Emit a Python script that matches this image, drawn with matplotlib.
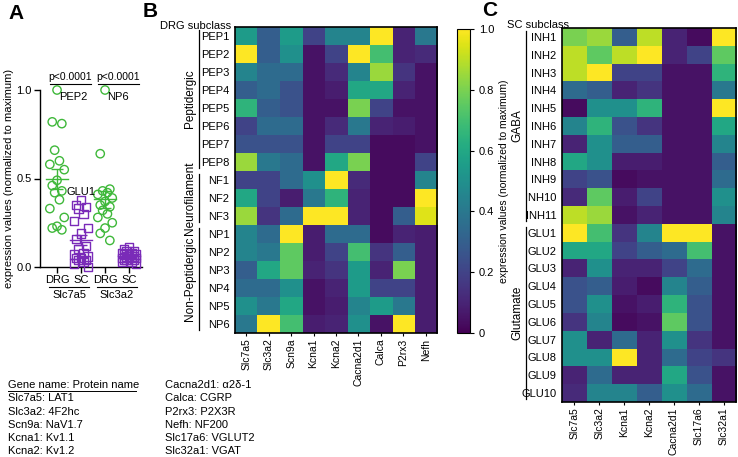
import numpy as np
import matplotlib
matplotlib.use('Agg')
import matplotlib.pyplot as plt
from matplotlib.lines import Line2D

plt.rcParams['font.family'] = ['Liberation Sans', 'DejaVu Sans']
plt.rcParams['font.size'] = 8

# ---- data ----
# panel A: scatter (normalized expression)
slc7a5_drg = [1.0, 0.82, 0.81, 0.66, 0.6, 0.58, 0.55, 0.49, 0.46, 0.43, 0.42, 0.38, 0.33, 0.28, 0.23, 0.22, 0.21]
slc7a5_sc = [0.38, 0.35, 0.34, 0.33, 0.3, 0.26, 0.22, 0.19, 0.16, 0.12, 0.1, 0.08, 0.07, 0.06, 0.05, 0.05,
             0.04, 0.04, 0.03, 0.02, 0.0]
slc3a2_drg = [1.0, 0.64, 0.44, 0.43, 0.42, 0.41, 0.39, 0.37, 0.35, 0.34, 0.32, 0.3, 0.28, 0.25, 0.22, 0.19, 0.15]
slc3a2_sc = [0.11, 0.1, 0.09, 0.09, 0.08, 0.08, 0.07, 0.07, 0.07, 0.06, 0.06, 0.06, 0.05, 0.05, 0.05, 0.04,
             0.04, 0.04, 0.03, 0.03, 0.02]
a_ticklabels = ['DRG', 'SC', 'DRG', 'SC']
a_genes = ['Slc7a5', 'Slc3a2']
p_values = ['p<0.0001', 'p<0.0001']

# panel B: DRG subclass heatmap
drg_rows = ['PEP1', 'PEP2', 'PEP3', 'PEP4', 'PEP5', 'PEP6', 'PEP7', 'PEP8',
            'NF1', 'NF2', 'NF3', 'NP1', 'NP2', 'NP3', 'NP4', 'NP5', 'NP6']
drg_cols = ['Slc7a5', 'Slc3a2', 'Scn9a', 'Kcna1', 'Kcna2', 'Cacna2d1', 'Calca', 'P2rx3', 'Nefh']
drg_vals = [
    [0.55, 0.30, 0.55, 0.20, 0.45, 0.45, 1.00, 0.10, 0.40],
    [1.00, 0.30, 0.50, 0.05, 0.20, 1.00, 0.70, 0.10, 0.12],
    [0.45, 0.35, 0.35, 0.05, 0.12, 0.45, 0.85, 0.15, 0.05],
    [0.30, 0.35, 0.25, 0.05, 0.08, 0.60, 0.60, 0.10, 0.05],
    [0.65, 0.30, 0.25, 0.05, 0.05, 0.80, 0.20, 0.05, 0.05],
    [0.20, 0.35, 0.35, 0.05, 0.12, 0.40, 0.10, 0.08, 0.05],
    [0.25, 0.25, 0.25, 0.05, 0.20, 0.20, 0.03, 0.03, 0.05],
    [0.85, 0.40, 0.35, 0.05, 0.60, 0.80, 0.03, 0.03, 0.20],
    [0.20, 0.20, 0.35, 0.50, 1.00, 0.12, 0.03, 0.03, 0.45],
    [0.60, 0.20, 0.08, 0.40, 0.65, 0.10, 0.03, 0.03, 1.00],
    [0.85, 0.15, 0.35, 1.00, 1.00, 0.10, 0.03, 0.30, 0.95],
    [0.45, 0.35, 1.00, 0.08, 0.35, 0.35, 0.03, 0.10, 0.08],
    [0.45, 0.40, 0.75, 0.08, 0.20, 0.70, 0.15, 0.30, 0.08],
    [0.30, 0.60, 0.75, 0.10, 0.15, 0.55, 0.10, 0.80, 0.08],
    [0.35, 0.35, 0.50, 0.05, 0.10, 0.55, 0.20, 0.20, 0.08],
    [0.50, 0.40, 0.60, 0.05, 0.08, 0.45, 0.55, 0.40, 0.08],
    [0.40, 1.00, 0.70, 0.08, 0.10, 0.50, 0.05, 1.00, 0.08],
]
drg_groups = [('Peptidergic', 0, 7), ('Neurofilament', 8, 10), ('Non-Peptidergic', 11, 16)]

# panel C: SC subclass heatmap
sc_rows = ['INH1', 'INH2', 'INH3', 'INH4', 'INH5', 'INH6', 'INH7', 'INH8', 'INH9', 'INH10', 'INH11',
           'GLU1', 'GLU2', 'GLU3', 'GLU4', 'GLU5', 'GLU6', 'GLU7', 'GLU8', 'GLU9', 'GLU10']
sc_cols = ['Slc7a5', 'Slc3a2', 'Kcna1', 'Kcna2', 'Cacna2d1', 'Slc17a6', 'Slc32a1']
sc_vals = [
    [0.80, 0.85, 0.30, 0.90, 0.10, 0.03, 1.00],
    [0.90, 0.75, 0.90, 1.00, 0.10, 0.20, 0.75],
    [0.90, 1.00, 0.20, 0.20, 0.05, 0.05, 0.65],
    [0.35, 0.30, 0.10, 0.15, 0.05, 0.05, 0.40],
    [0.03, 0.50, 0.50, 0.65, 0.05, 0.05, 1.00],
    [0.45, 0.65, 0.25, 0.15, 0.05, 0.05, 0.60],
    [0.10, 0.50, 0.30, 0.30, 0.05, 0.05, 0.45],
    [0.60, 0.50, 0.08, 0.08, 0.05, 0.05, 0.30],
    [0.20, 0.25, 0.03, 0.05, 0.05, 0.05, 0.35],
    [0.12, 0.75, 0.08, 0.20, 0.05, 0.05, 0.50],
    [0.90, 0.85, 0.05, 0.10, 0.05, 0.05, 0.45],
    [1.00, 0.70, 0.15, 0.45, 1.00, 1.00, 0.05],
    [0.60, 0.60, 0.20, 0.30, 0.35, 0.70, 0.05],
    [0.10, 0.50, 0.10, 0.10, 0.20, 0.35, 0.05],
    [0.25, 0.30, 0.08, 0.03, 0.45, 0.30, 0.05],
    [0.25, 0.50, 0.05, 0.08, 0.65, 0.25, 0.05],
    [0.15, 0.45, 0.03, 0.05, 0.75, 0.25, 0.05],
    [0.50, 0.10, 0.35, 0.10, 0.50, 0.15, 0.05],
    [0.50, 0.50, 1.00, 0.10, 0.35, 0.20, 0.15],
    [0.10, 0.35, 0.10, 0.10, 0.60, 0.25, 0.05],
    [0.12, 0.45, 0.45, 0.30, 0.50, 0.35, 0.05],
]
sc_groups = [('GABA', 0, 10), ('Glutamate', 11, 20)]

legend_col1 = ['Slc7a5: LAT1', 'Slc3a2: 4F2hc', 'Scn9a: NaV1.7', 'Kcna1: Kv1.1', 'Kcna2: Kv1.2']
legend_col2 = ['Cacna2d1: \u03b12\u03b4-1', 'Calca: CGRP', 'P2rx3: P2X3R', 'Nefh: NF200',
               'Slc17a6: VGLUT2', 'Slc32a1: VGAT']

W, H = 738, 457
fig = plt.figure(figsize=(W / 100, H / 100), dpi=100)


def px(l, t, r, b):
    # pixel box -> figure fraction
    return [l / W, 1 - b / H, (r - l) / W, (b - t) / H]


GREEN = '#3fb83a'
PURPLE = '#7a2bb8'
OFFS = [0, -0.2, 0.2, -0.1, 0.1, -0.3, 0.3]

# ---- Panel A ----
axA = fig.add_axes(px(40, 90, 142, 267))
series = [(slc7a5_drg, 'o', GREEN), (slc7a5_sc, 's', PURPLE),
          (slc3a2_drg, 'o', GREEN), (slc3a2_sc, 's', PURPLE)]
for i, (vals, mk, col) in enumerate(series):
    v = np.array(vals)
    xs = i + np.array([OFFS[k % len(OFFS)] for k in range(len(v))])
    axA.scatter(xs, v, marker=mk, s=36, facecolors='none', edgecolors=col, linewidths=1.0,
                clip_on=False, zorder=3)
    m = v.mean()
    sem = v.std(ddof=1) / np.sqrt(len(v))
    axA.plot([i - 0.45, i + 0.45], [m, m], color=col, lw=1.0, zorder=4, clip_on=False)
    axA.errorbar(i, m, yerr=sem, color=col, capsize=4, lw=1.0, capthick=1.0, zorder=4)

axA.set_xlim(-0.71, 3.54)
axA.set_ylim(0, 1.0)
axA.set_yticks([0, 0.5, 1.0])
axA.set_yticklabels(['0.0', '0.5', '1.0'])
axA.set_xticks([0, 1, 2, 3])
axA.set_xticklabels(a_ticklabels, fontsize=8)
axA.tick_params(length=4, width=1, pad=2)
for s in ['top', 'right']:
    axA.spines[s].set_visible(False)
axA.spines['left'].set_linewidth(1)
axA.spines['bottom'].set_linewidth(1)
axA.set_ylabel('expression values (normalized to maximum)', fontsize=8, labelpad=2)

# gene labels under pairs
for j, g in enumerate(a_genes):
    x0 = 2 * j
    axA.plot([x0 - 0.35, x0 + 1.35], [-0.115, -0.115], color='black', lw=0.8, clip_on=False)
    axA.text(x0 + 0.5, -0.13, g, ha='center', va='top', fontsize=8)

# p-value brackets
for j, p in enumerate(p_values):
    x0 = 2 * j
    axA.plot([x0 - 0.3, x0 + 1.4], [1.034, 1.034], color='black', lw=0.8, clip_on=False)
    axA.text(x0 + 0.55, 1.045, p, ha='center', va='bottom', fontsize=7.5)

axA.text(0.1, 0.99, 'PEP2', ha='left', va='top', fontsize=8)
axA.text(1.0, 0.395, 'GLU1', ha='center', va='bottom', fontsize=8)
axA.text(2.1, 0.99, 'NP6', ha='left', va='top', fontsize=8)

fig.text(8 / W, 1 - 4 / H, 'A', fontsize=15, fontweight='bold', va='top', ha='left')


# ---- heatmap helper ----
def heatmap(ax, vals, rows, cols, groups, line_x, text_x):
    im = ax.imshow(np.array(vals), cmap='viridis', vmin=0, vmax=1, aspect='auto',
                   interpolation='nearest')
    ax.set_xticks(range(len(cols)))
    ax.set_xticklabels(cols, rotation=90, fontsize=7.5)
    ax.set_yticks(range(len(rows)))
    ax.set_yticklabels(rows, fontsize=8)
    ax.tick_params(axis='y', length=0, pad=4)
    ax.tick_params(axis='x', length=2.5, width=0.8, pad=1.5)
    for s in ax.spines.values():
        s.set_linewidth(1.2)
    tr = ax.get_yaxis_transform()
    for name, r0, r1 in groups:
        ax.plot([line_x, line_x], [r0 - 0.35, r1 + 0.35], color='black', lw=0.9,
                transform=tr, clip_on=False)
        ax.text(text_x, (r0 + r1) / 2, name, rotation=90, ha='center', va='center',
                fontsize=8.5, transform=tr)
    return im


# ---- Panel B ----
axB = fig.add_axes(px(235, 27, 437, 333))
imB = heatmap(axB, drg_vals, drg_rows, drg_cols, drg_groups, -0.178, -0.225)
fig.text(143 / W, 1 - 2 / H, 'B', fontsize=15, fontweight='bold', va='top', ha='left')
fig.text(160 / W, 1 - 26 / H, 'DRG subclass', fontsize=8, va='center', ha='left')

# colorbar
cax = fig.add_axes(px(457, 29, 470, 333))
cb = fig.colorbar(imB, cax=cax)
cb.set_ticks([0, 0.2, 0.4, 0.6, 0.8, 1.0])
cb.set_ticklabels(['0', '0.2', '0.4', '0.6', '0.8', '1.0'])
cb.ax.tick_params(labelsize=8, length=3, width=0.8)
cb.outline.set_linewidth(0.8)
cb.set_label('expression values (normalized to maximum)', fontsize=7.5, labelpad=3)

# ---- Panel C ----
axC = fig.add_axes(px(562, 28, 736, 402))
heatmap(axC, sc_vals, sc_rows, sc_cols, sc_groups, -0.207, -0.255)
fig.text(482 / W, 1 - 1 / H, 'C', fontsize=15, fontweight='bold', va='top', ha='left')
fig.text(507 / W, 1 - 25 / H, 'SC subclass', fontsize=8, va='center', ha='left')

# ---- gene/protein legend ----
y0 = 385
step = 13.3
fig.text(8 / W, 1 - y0 / H, 'Gene name: Protein name', fontsize=8, va='center', ha='left')
fig.add_artist(Line2D([8 / W, 136 / W], [1 - (y0 + 6) / H, 1 - (y0 + 6) / H], color='black', lw=0.7))
for k, s in enumerate(legend_col1):
    fig.text(8 / W, 1 - (y0 + step * (k + 1)) / H, s, fontsize=8, va='center', ha='left')
for k, s in enumerate(legend_col2):
    fig.text(165 / W, 1 - (y0 + step * k) / H, s, fontsize=8, va='center', ha='left')

fig.savefig('out.png', dpi=100)
